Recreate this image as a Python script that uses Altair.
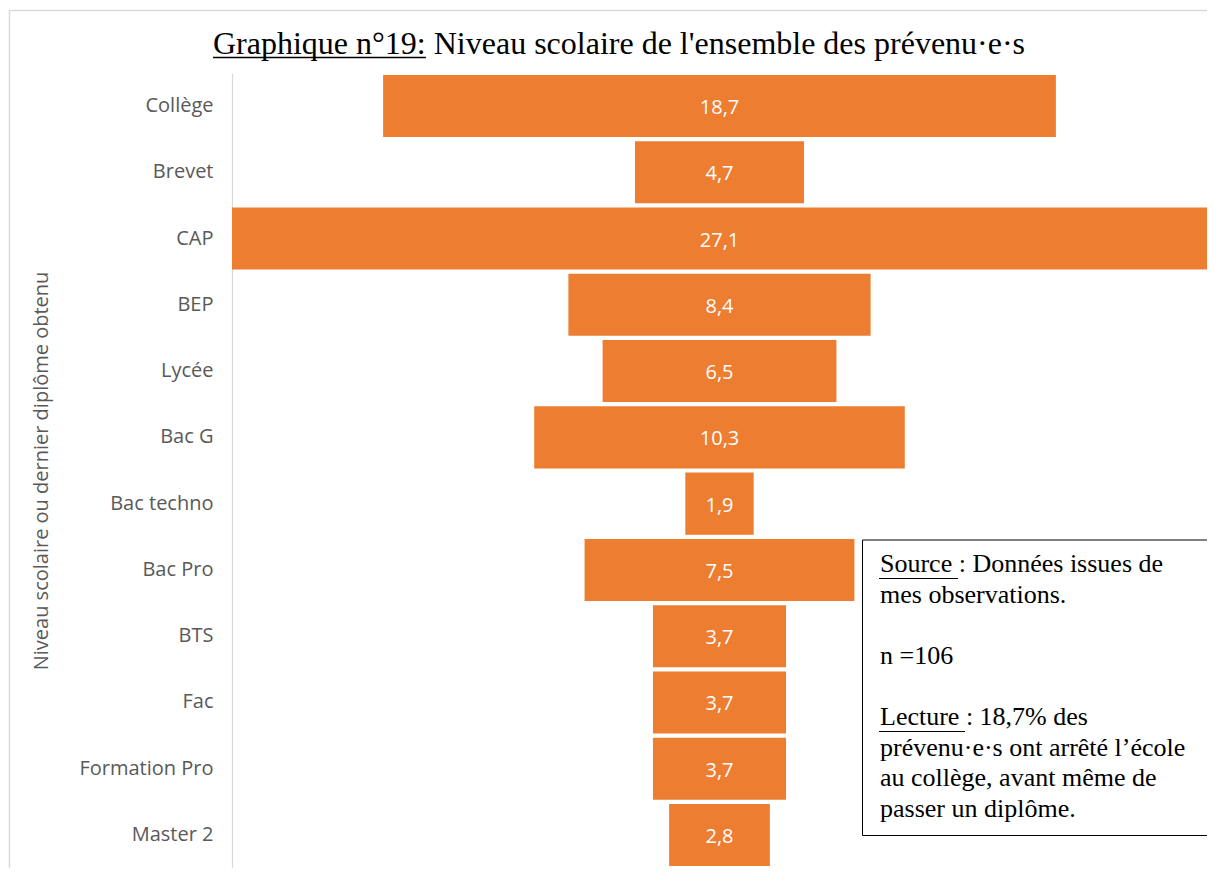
import altair as alt
import pandas as pd

categories = ["Collège", "Brevet", "CAP", "BEP", "Lycée", "Bac G", "Bac techno",
              "Bac Pro", "BTS", "Fac", "Formation Pro", "Master 2"]
values = [18.7, 4.7, 27.1, 8.4, 6.5, 10.3, 1.9, 7.5, 3.7, 3.7, 3.7, 2.8]
labels = [f"{v:.1f}".replace(".", ",") for v in values]

chart_title = "Graphique n°19: Niveau scolaire de l'ensemble des prévenu·e·s"
y_title = "Niveau scolaire ou dernier diplôme obtenu"
note_source = ["Source : Données issues de", "mes observations."]
note_n = "n =106"
note_lecture = [
    "Lecture : 18,7% des",
    "prévenu·e·s ont arrêté l’école",
    "au collège, avant même de",
    "passer un diplôme.",
]

df = pd.DataFrame({"cat": categories, "value": values, "label": labels})

W, H = 975, 795
LH = 30.6
half = max(values) / 2
xscale = alt.Scale(domain=[-half, half], nice=False, zero=False)
yscale = alt.Scale(domain=categories, paddingInner=0.064, paddingOuter=0.03)

yaxis = alt.Axis(
    title=y_title, labelFont="Open Sans", labelFontSize=20, labelColor="#595959",
    ticks=False, grid=False, domainColor="#d9d9d9", domainWidth=1.2, labelPadding=19,
    titleFont="Open Sans", titleFontSize=20, titleColor="#595959", titleFontWeight="normal",
    titleAngle=270, titleX=-191, titleY=H / 2, titleAlign="center", titleBaseline="middle",
)

base = alt.Chart(df)
one = alt.Data(values=[{"k": 1}])

border = alt.Chart(one).mark_rect(fillOpacity=0, stroke="#d9d9d9", strokeWidth=1.5).encode(
    x=alt.value(-222.5), x2=alt.value(W + 100), y=alt.value(-62.5), y2=alt.value(H + 100)
)

bars = base.transform_calculate(lo="-datum.value/2", hi="datum.value/2").mark_bar(
    color="#ED7D31"
).encode(
    y=alt.Y("cat:N", sort=categories, scale=yscale, axis=yaxis),
    x=alt.X("lo:Q", scale=xscale, axis=None),
    x2="hi:Q",
)

bar_text = base.mark_text(
    color="white", font="Open Sans", fontSize=20, baseline="middle", align="center", dy=2
).encode(
    y=alt.Y("cat:N", sort=categories, scale=yscale),
    x=alt.datum(0, scale=xscale),
    text="label:N",
)

note_box = alt.Chart(one).mark_rect(fill="white", stroke="black", strokeWidth=1).encode(
    x=alt.value(630.5), x2=alt.value(W + 100), y=alt.value(467), y2=alt.value(762.5)
)


def note_block(lines, y):
    return alt.Chart(one).mark_text(
        text=lines, font="Liberation Serif", fontSize=26, color="black",
        align="left", baseline="alphabetic", lineHeight=LH
    ).encode(x=alt.value(648), y=alt.value(y))


y0 = 499
note1 = note_block(note_source, y0)
note2 = note_block(note_n, y0 + 3 * LH)
note3 = note_block(note_lecture, y0 + 5 * LH)

ul_source = alt.Chart(one).mark_rule(color="black", strokeWidth=1.2).encode(
    x=alt.value(647), x2=alt.value(726), y=alt.value(y0 + 6.5)
)
ul_lecture = alt.Chart(one).mark_rule(color="black", strokeWidth=1.2).encode(
    x=alt.value(647), x2=alt.value(733), y=alt.value(y0 + 5 * LH + 6.5)
)

title_text = alt.Chart(one).mark_text(
    text=chart_title, font="Liberation Serif", fontSize=32, color="black",
    align="left", baseline="alphabetic"
).encode(x=alt.value(-19), y=alt.value(-19))

ul_title = alt.Chart(one).mark_rule(color="black", strokeWidth=1.4).encode(
    x=alt.value(-19), x2=alt.value(194), y=alt.value(-15.5)
)

chart = alt.layer(
    border, bars, bar_text, note_box, note1, note2, note3, ul_source, ul_lecture,
    title_text, ul_title
).properties(
    width=W, height=H,
    padding={"left": 224, "top": 65, "right": 0, "bottom": 0},
    autosize=alt.AutoSizeParams(type="none"),
    background="white",
).configure_view(stroke=None, strokeWidth=0)

chart.save("out.html", embed_options={"renderer": "svg", "actions": False})
